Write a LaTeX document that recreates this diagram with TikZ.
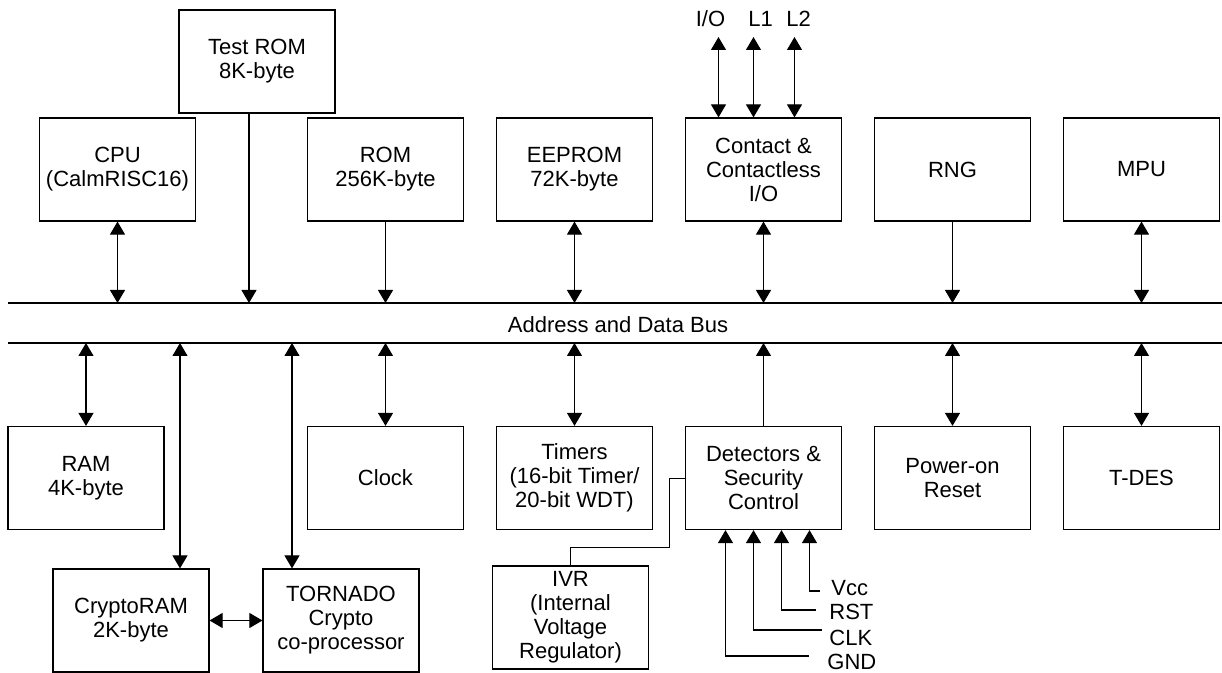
\documentclass[tikz,border=0pt]{standalone}
\usepackage{fontspec}
\setmainfont{Liberation Sans}
\usetikzlibrary{arrows.meta}
\tikzstyle{block} = [rectangle, draw, line width=0.6pt, align=center,
    minimum width=78pt, minimum height=51.5pt, inner sep=0pt]
\tikzstyle{line} = [draw, line width=0.55pt, -{Triangle[width=7.5pt,length=6.5pt]}]
\tikzstyle{both} = [draw, line width=0.55pt, {Triangle[width=7.5pt,length=6.5pt]}-{Triangle[width=7.5pt,length=6.5pt]}]
\tikzstyle{wire} = [draw, line width=0.35pt]
\tikzstyle{bus} = [draw, line width=0.7pt]
\tikzstyle{pinlabel} = [inner sep=0pt]

\begin{document}
\begin{tikzpicture}[x=0.5pt, y=-0.5pt, node distance=94.5pt, font=\fontsize{11}{12}\selectfont]
	\useasboundingbox (0,0) rectangle (1222,673);

	% bus
	\coordinate (bustop) at (8,303);
	\coordinate (busbot) at (8,343);
	\path [bus] (bustop) -- (1222,303);
	\path [bus] (busbot) -- (1222,343);
	\node (busname) at (618,325) {Address and Data Bus};

	% upper row
	\node [block] (rom) at (385.5,169.5) {ROM\\256K-byte};
	\node [block, left of=rom, node distance=134pt] (cpu) {CPU\\(CalmRISC16)};
	\node [block] (testrom) at (257,61.5) {Test ROM\\8K-byte};
	\node [block, right of=rom] (eeprom) {EEPROM\\72K-byte};
	\node [block, right of=eeprom] (contact) {Contact \&\\Contactless\\I/O};
	\node [block, right of=contact] (rng) {RNG};
	\node [block, right of=rng] (mpu) {MPU};

	\path [both] (cpu.south) -- (cpu.south |- bustop);
	\path [line] ([xshift=-4pt]testrom.south) -- ([xshift=-4pt]testrom.south |- bustop);
	\path [line] (rom.south) -- (rom.south |- bustop);
	\path [both] (eeprom.south) -- (eeprom.south |- bustop);
	\path [both] (contact.south) -- (contact.south |- bustop);
	\path [line] (rng.south) -- (rng.south |- bustop);
	\path [both] (mpu.south) -- (mpu.south |- bustop);

	% card pins
	\coordinate (pintop) at (0,37);
	\node [pinlabel, anchor=base] (io) at (710.5,27) {I/O};
	\node [pinlabel, anchor=base] (la) at (760.5,27) {L1};
	\node [pinlabel, anchor=base] (lb) at (798.5,27) {L2};
	\path [both] ([xshift=-22.5pt]contact.north) -- ([xshift=-22.5pt]contact.north |- pintop);
	\path [both] ([xshift=-5pt]contact.north) -- ([xshift=-5pt]contact.north |- pintop);
	\path [both] ([xshift=15.5pt]contact.north) -- ([xshift=15.5pt]contact.north |- pintop);

	% lower row
	\node [block, below of=rom, node distance=154.25pt] (clock) {Clock};
	\node [block, right of=clock] (timers) {Timers\\(16-bit Timer/\\20-bit WDT)};
	\node [block, right of=timers] (detect) {Detectors \&\\Security\\Control};
	\node [block, right of=detect] (reset) {Power-on\\Reset};
	\node [block, right of=reset] (tdes) {T-DES};
	\node [block] (ram) at (86,478) {RAM\\4K-byte};
	\node [block] (cryptoram) at (131,620.5) {CryptoRAM\\2K-byte};
	\node [block] (tornado) at (341,620.5) {TORNADO\\Crypto\\co-processor};
	\node [block] (ivr) at (570.5,617.5) {IVR\\(Internal\\Voltage\\Regulator)};

	\path [both] (ram.north |- busbot) -- (ram.north);
	\path [both] ([xshift=24.5pt]cryptoram.north |- busbot) -- ([xshift=24.5pt]cryptoram.north);
	\path [both] ([xshift=-24.5pt]tornado.north |- busbot) -- ([xshift=-24.5pt]tornado.north);
	\path [both] (clock.north |- busbot) -- (clock.north);
	\path [both] (timers.north |- busbot) -- (timers.north);
	\path [line] (detect.north) -- (detect.north |- busbot);
	\path [both] (reset.north |- busbot) -- (reset.north);
	\path [both] (tdes.north |- busbot) -- (tdes.north);
	\path [both] (cryptoram.east) -- (tornado.west);

	\coordinate (ivrbend) at (669,547);
	\path [wire] (ivr.north) |- (ivrbend) |- (detect.west);

	% supply pins
	\node [pinlabel, anchor=base west] (vcc) at (831,596) {Vcc};
	\node [pinlabel, anchor=base west] (rst) at (829,620) {RST};
	\node [pinlabel, anchor=base west] (clk) at (829,646) {CLK};
	\node [pinlabel, anchor=base west] (gnd) at (827,669) {GND};
	\coordinate (vccend) at (820,591);
	\coordinate (rstend) at (816,610);
	\coordinate (clkend) at (822,630);
	\coordinate (gndend) at (809,656);
	\path [line] (vccend) -| ([xshift=23pt]detect.south);
	\path [line] (rstend) -| ([xshift=9pt]detect.south);
	\path [line] (clkend) -| ([xshift=-5pt]detect.south);
	\path [line] (gndend) -| ([xshift=-19pt]detect.south);
\end{tikzpicture}
\end{document}
